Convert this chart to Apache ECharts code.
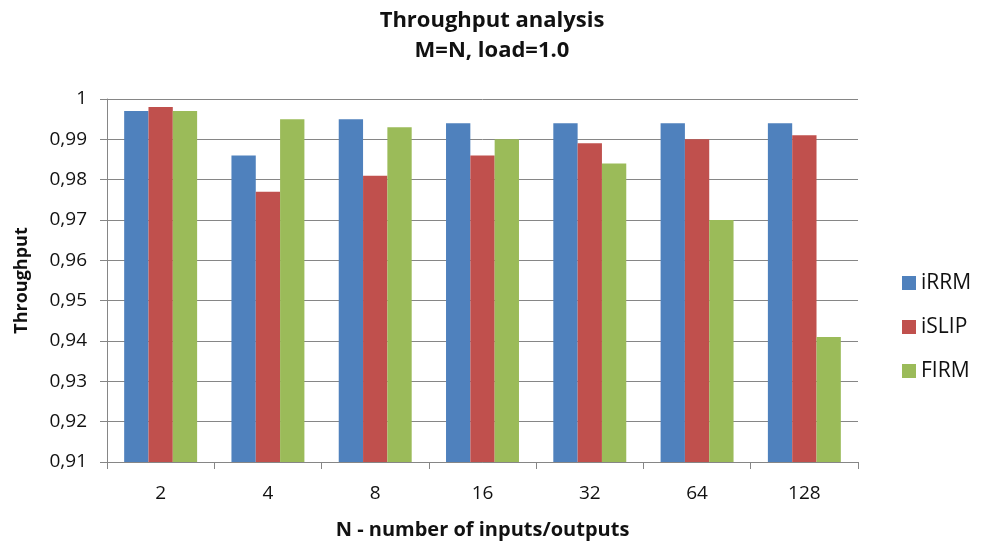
<!DOCTYPE html>
<html>
<head>
<meta charset="utf-8">
<script src="https://cdn.jsdelivr.net/npm/echarts@6/dist/echarts.min.js"></script>
<style>html,body{margin:0;padding:0;background:#fff}#c{width:984px;height:545px}</style>
</head>
<body>
<div id="c"></div>
<script>
const categories = ['2', '4', '8', '16', '32', '64', '128'];
const iRRM  = [0.997, 0.986, 0.995, 0.994, 0.994, 0.994, 0.994];
const iSLIP = [0.998, 0.977, 0.981, 0.986, 0.989, 0.990, 0.991];
const FIRM  = [0.997, 0.995, 0.993, 0.990, 0.984, 0.970, 0.941];
const seriesNames = ['iRRM', 'iSLIP', 'FIRM'];
const colors = ['#4F81BD', '#C0504D', '#9BBB59'];
const yMin = 0.91, yMax = 1.0, yStep = 0.01;

const font = '"Open Sans", Lato, sans-serif';
const chart = echarts.init(document.getElementById('c'), null, {renderer: 'canvas'});
chart.setOption({
  animation: false,
  color: colors,
  title: {
    text: 'Throughput analysis\nM=N, load=1.0',
    left: 'center',
    top: 1,
    textStyle: {fontFamily: font, fontSize: 22, fontWeight: 'bold', color: '#111', lineHeight: 30}
  },
  legend: {
    orient: 'vertical',
    left: 897,
    top: 267,
    itemWidth: 14,
    itemHeight: 14,
    itemGap: 22,
    icon: 'rect',
    textStyle: {fontFamily: font, fontSize: 21, color: '#111', lineHeight: 22},
    data: seriesNames
  },
  grid: {left: 107, right: 126, top: 99, bottom: 83, containLabel: false},
  xAxis: {
    type: 'category',
    data: categories,
    name: 'N - number of inputs/outputs',
    nameLocation: 'middle',
    nameGap: 58,
    nameTextStyle: {fontFamily: font, fontSize: 20, fontWeight: 'bold', color: '#111'},
    axisLine: {lineStyle: {color: '#868686', width: 1}},
    axisTick: {show: true, alignWithLabel: false, length: 7, lineStyle: {color: '#868686'}},
    axisLabel: {fontFamily: font, fontSize: 19, color: '#111', margin: 22}
  },
  yAxis: {
    type: 'value',
    min: yMin,
    max: yMax,
    interval: yStep,
    name: 'Throughput',
    nameLocation: 'middle',
    nameGap: 76,
    nameTextStyle: {fontFamily: font, fontSize: 18, fontWeight: 'bold', color: '#111'},
    axisLine: {show: true, lineStyle: {color: '#868686', width: 1}},
    axisTick: {show: true, length: 7, lineStyle: {color: '#868686'}},
    splitLine: {lineStyle: {color: '#868686', width: 1}},
    axisLabel: {
      fontFamily: font, fontSize: 19, color: '#111', margin: 20,
      formatter: v => Math.abs(v - 1) < 1e-9 ? '1' : v.toFixed(2).replace('.', ',')
    }
  },
  series: [
    {name: seriesNames[0], type: 'bar', data: iRRM, barGap: '0%', barCategoryGap: '32%'},
    {name: seriesNames[1], type: 'bar', data: iSLIP, barGap: '0%', barCategoryGap: '32%'},
    {name: seriesNames[2], type: 'bar', data: FIRM, barGap: '0%', barCategoryGap: '32%'}
  ]
});
</script>
</body>
</html>
